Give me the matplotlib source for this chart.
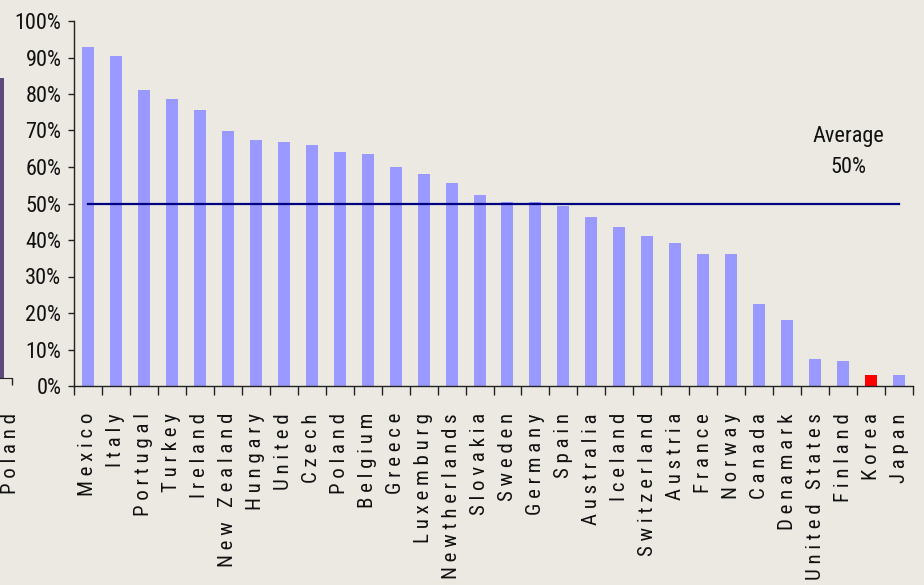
import matplotlib
matplotlib.use('Agg')
import matplotlib.pyplot as plt
import numpy as np
from matplotlib import font_manager
from matplotlib.ticker import FixedLocator, PercentFormatter

# values (share, 0-1)
countries = ['Mexico', 'Italy', 'Portugal', 'Turkey', 'Ireland', 'New Zealand',
             'Hungary', 'United', 'Czech', 'Poland', 'Belgium', 'Greece',
             'Luxemburg', 'Newtherlands', 'Slovakia', 'Sweden', 'Germany', 'Spain',
             'Australia', 'Iceland', 'Switzerland', 'Austria', 'France', 'Norway',
             'Canada', 'Denamark', 'United States', 'Finland', 'Korea', 'Japan']
shares = [0.929, 0.904, 0.811, 0.786, 0.756, 0.699,
          0.674, 0.668, 0.660, 0.641, 0.636, 0.600,
          0.581, 0.556, 0.523, 0.504, 0.504, 0.493,
          0.463, 0.436, 0.411, 0.392, 0.362, 0.362,
          0.225, 0.181, 0.074, 0.068, 0.030, 0.030]
highlight = 'Korea'
average = 0.50
avg_text = 'Average\n50%'

# last bar of the neighbouring chart, cut off at the left edge
prev_label = 'Poland'
prev_value = 0.84

BG = '#ECE9E2'
BAR = '#9999FF'
WIDE = ['Liberation Sans', 'DejaVu Sans']


def narrow_family():
    # pick whatever condensed sans is installed, else fall back to a regular one
    names = {f.name for f in font_manager.fontManager.ttflist}
    for cand in ['Liberation Sans Narrow', 'Roboto Condensed', 'DejaVu Sans Condensed',
                 'Open Sans Condensed', 'Noto Sans Condensed']:
        if cand in names:
            return [cand, 'DejaVu Sans']
    for f in font_manager.fontManager.ttflist:
        if 'condensed' in str(f.stretch).lower() or 'narrow' in f.name.lower():
            return [f.name, 'DejaVu Sans']
    return WIDE


def spaced(name):
    return ' '.join(name)


def main():
    NARROW = narrow_family()
    W, H = 924, 585
    fig = plt.figure(figsize=(W / 100, H / 100), dpi=100, facecolor=BG)

    # main chart, placed in pixel terms
    x0, x1, ytop, ybot = 74, 913, 21, 386
    ax = fig.add_axes([x0 / W, (H - ybot) / H, (x1 - x0) / W, (ybot - ytop) / H])
    ax.set_facecolor(BG)

    x = np.arange(len(countries))
    colors = ['#FF0000' if c == highlight else BAR for c in countries]
    ax.bar(x, shares, width=0.43, color=colors, zorder=2)
    ax.plot([x[0], x[-1]], [average, average], color='#000080', lw=1.6, zorder=3)

    ax.set_xlim(-0.5, len(countries) - 0.5)
    ax.set_ylim(0, 1)

    for s in ['top', 'right']:
        ax.spines[s].set_visible(False)
    for s in ['left', 'bottom']:
        ax.spines[s].set_color('#222222')
        ax.spines[s].set_linewidth(1.0)

    # y axis
    ax.set_yticks(np.linspace(0, 1, 11))
    ax.yaxis.set_major_formatter(PercentFormatter(1.0, decimals=0))
    ax.tick_params(axis='y', direction='out', length=4, width=1, pad=5,
                   colors='#222222', labelcolor='#111111')
    for lbl in ax.get_yticklabels():
        lbl.set_family(NARROW)
        lbl.set_fontsize(16)

    # x axis: ticks on category boundaries, labels in the middle
    ax.xaxis.set_major_locator(FixedLocator(np.arange(len(countries) + 1) - 0.5))
    ax.xaxis.set_minor_locator(FixedLocator(x))
    ax.tick_params(axis='x', which='major', direction='out', length=6.5, width=1,
                   labelbottom=False, colors='#222222')
    ax.tick_params(axis='x', which='minor', length=0, pad=19.5)
    ax.set_xticks(x, [spaced(c) for c in countries], minor=True,
                  rotation=90, va='top', ha='center',
                  family=NARROW, fontsize=15, color='#111111')

    ax.text(0.9225, 0.641, avg_text, transform=ax.transAxes, ha='center', va='center',
            family=NARROW, fontsize=16, linespacing=1.6, color='#111111')

    # neighbouring chart fragment on the far left
    px0, px1, pbot = -16, 12, 378
    ax0 = fig.add_axes([px0 / W, (H - pbot) / H, (px1 - px0) / W, (pbot - ytop) / H])
    ax0.patch.set_visible(False)
    ax0.bar([0], [prev_value], width=0.43, color='#5F4B7B')
    ax0.set_xlim(-0.5, 0.5)
    ax0.set_ylim(0, 1)
    for s in ['top', 'right', 'left']:
        ax0.spines[s].set_visible(False)
    ax0.spines['bottom'].set_color('#222222')
    ax0.set_yticks([])
    ax0.set_xticks([-0.5, 0.5], ['', ''])
    ax0.tick_params(axis='x', direction='out', length=5, width=1, colors='#222222')
    fig.text(1 / W, (H - 413) / H, spaced(prev_label), rotation=90, ha='left', va='top',
             family=NARROW, fontsize=15, color='#111111')

    fig.savefig('out.png', dpi=100, facecolor=BG)


if __name__ == '__main__':
    main()
